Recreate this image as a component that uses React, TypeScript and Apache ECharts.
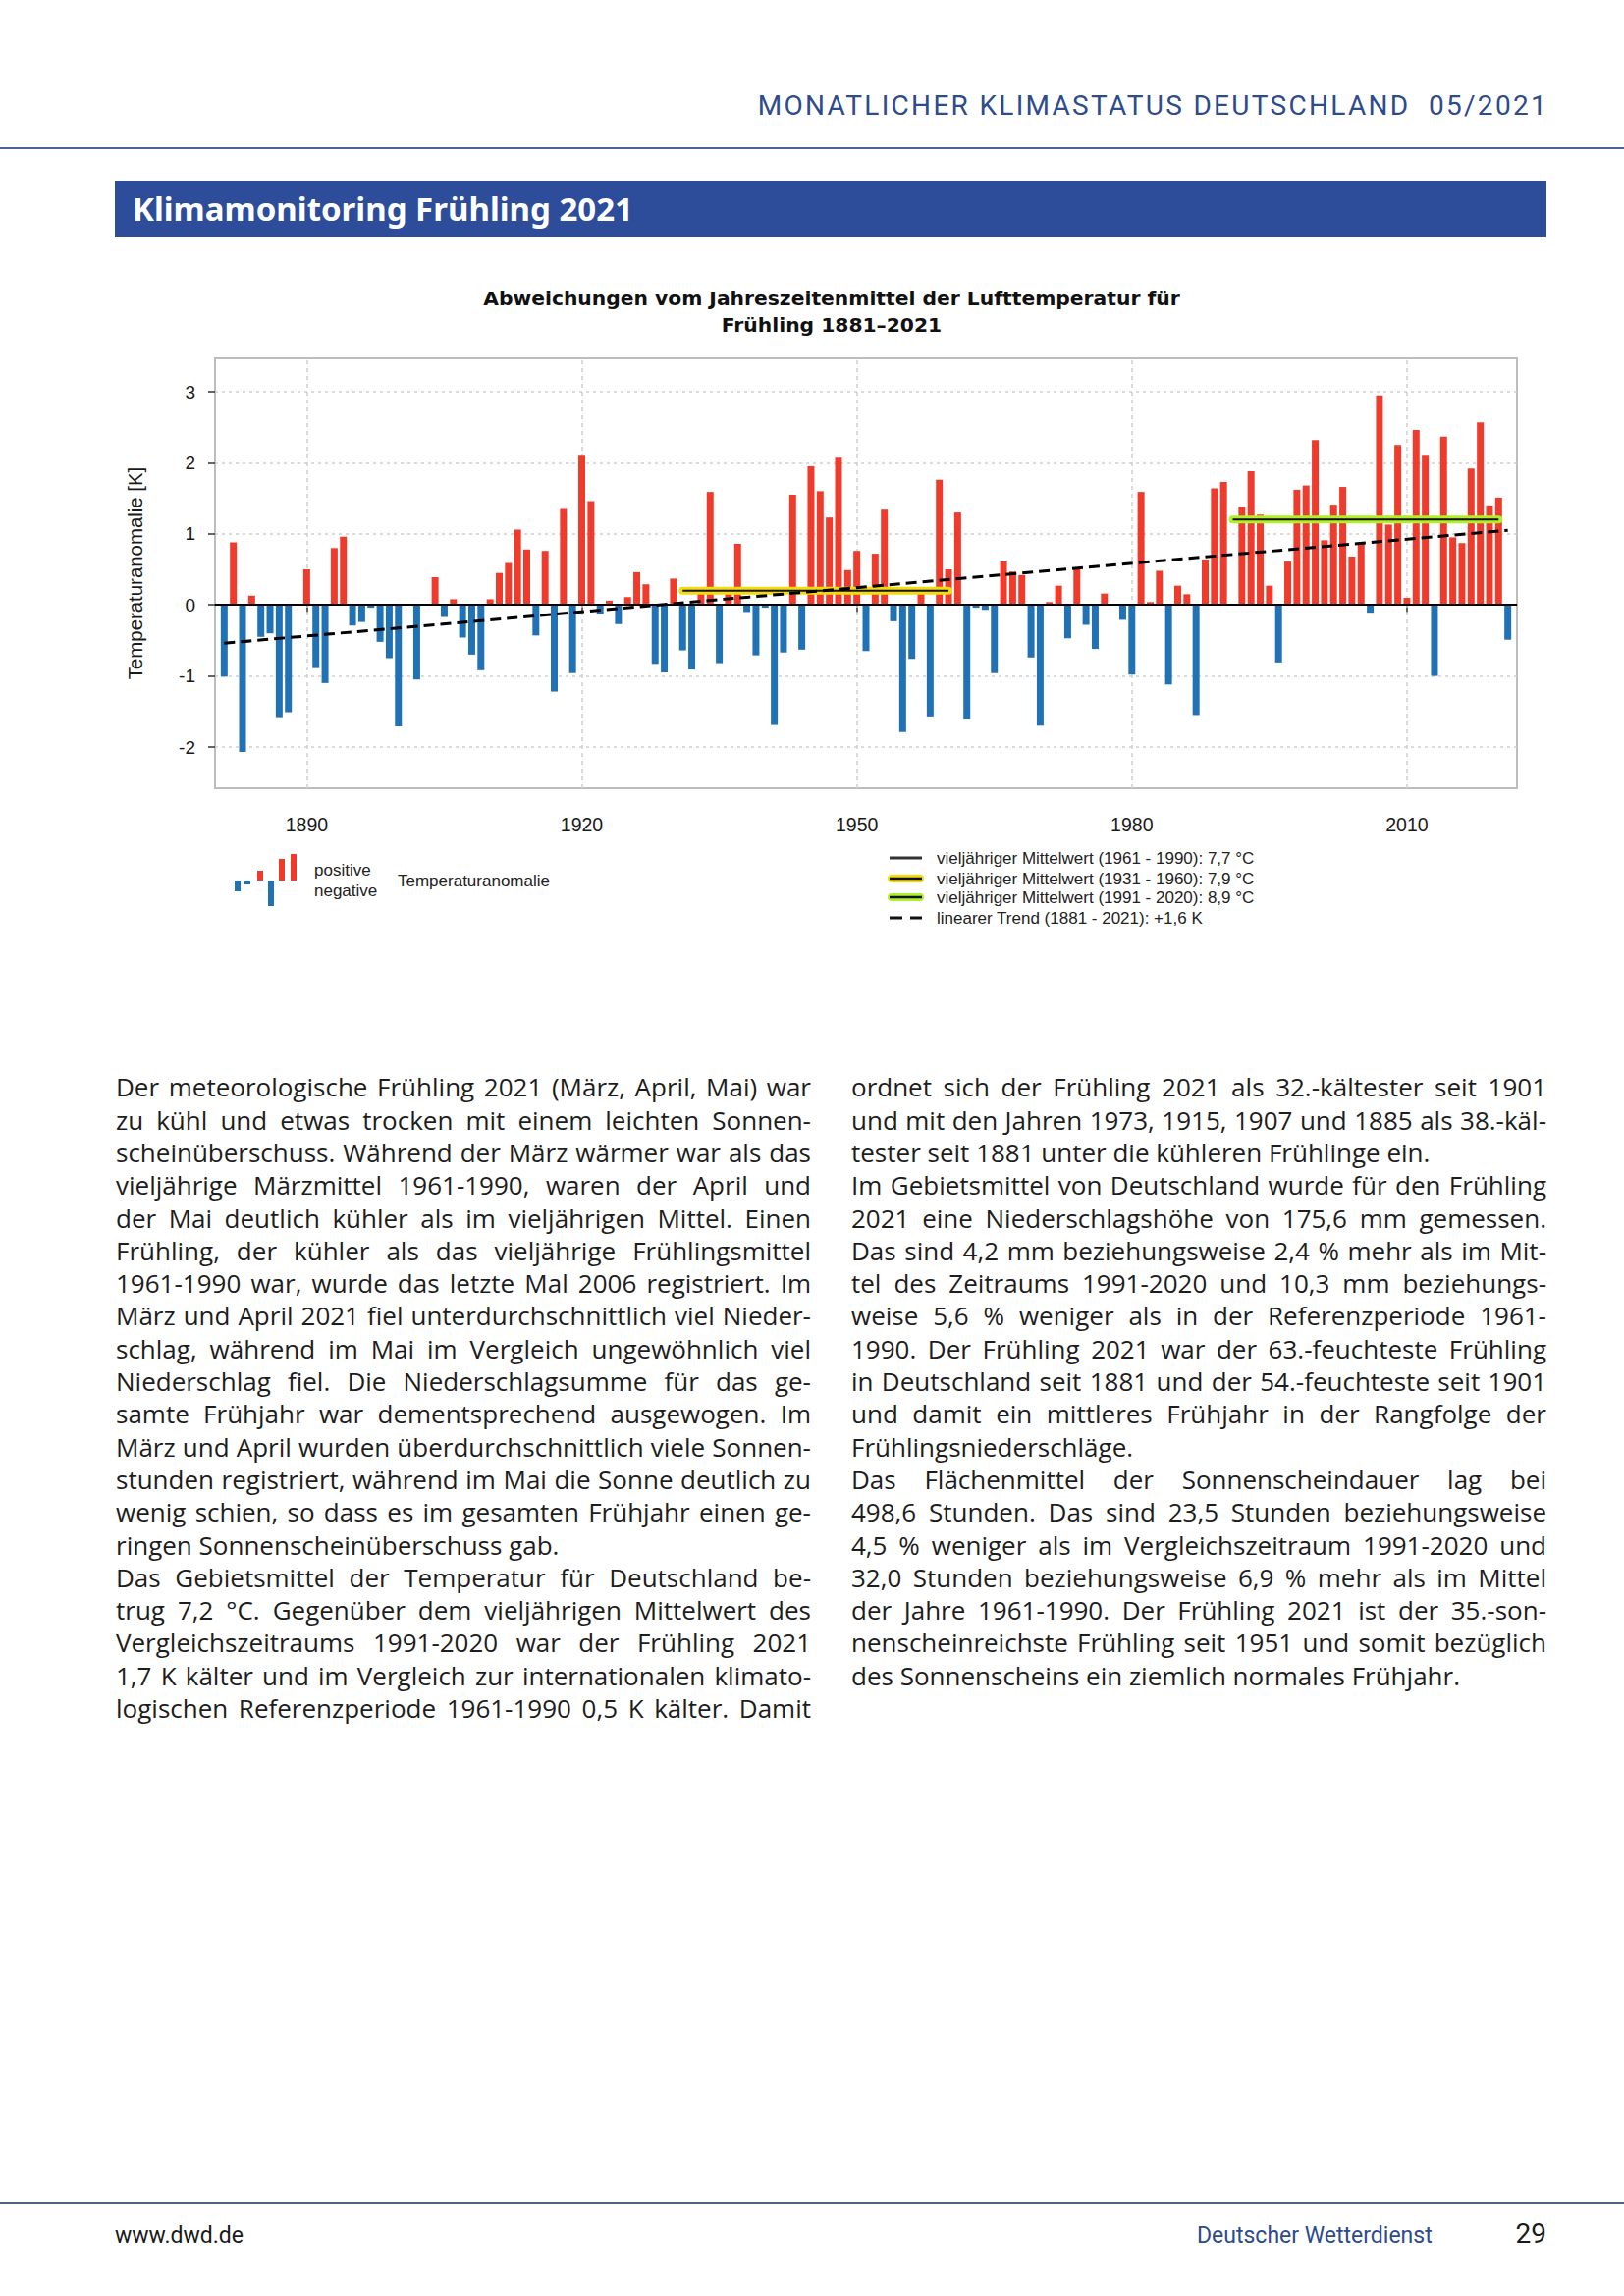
import React, { useEffect, useLayoutEffect, useRef } from "react";
import * as echarts from "echarts";

// ---------- DATA ----------
const FIRST_YEAR = 1881;
// Spring temperature anomaly vs. 1961-1990 (K), 1881 ... 2021
const anomalies: number[] = [
  /*1881*/ -1.01, 0.88, -2.07, 0.13, -0.45, -0.4, -1.58, -1.51, 0.0,
  /*1890*/ 0.5, -0.89, -1.1, 0.8, 0.96, -0.29, -0.24, -0.04, -0.52, -0.75,
  /*1900*/ -1.71, 0.0, -1.05, 0.0, 0.39, -0.17, 0.08, -0.46, -0.7, -0.92,
  /*1910*/ 0.08, 0.45, 0.59, 1.06, 0.78, -0.43, 0.76, -1.22, 1.35, -0.96,
  /*1920*/ 2.1, 1.46, -0.13, 0.06, -0.27, 0.11, 0.46, 0.29, -0.83, -0.95,
  /*1930*/ 0.37, -0.64, -0.91, 0.18, 1.59, -0.82, 0.16, 0.86, -0.1, -0.71,
  /*1940*/ -0.04, -1.69, -0.67, 1.55, -0.63, 1.95, 1.6, 1.23, 2.07, 0.49,
  /*1950*/ 0.76, -0.65, 0.72, 1.34, -0.23, -1.79, -0.76, 0.18, -1.57, 1.76,
  /*1960*/ 0.5, 1.3, -1.6, -0.04, -0.07, -0.96, 0.61, 0.47, 0.42, -0.74,
  /*1970*/ -1.7, 0.04, 0.27, -0.47, 0.5, -0.28, -0.62, 0.16, 0.0, -0.21,
  /*1980*/ -0.98, 1.59, 0.04, 0.48, -1.12, 0.27, 0.15, -1.55, 0.64, 1.64,
  /*1990*/ 1.73, 0.0, 1.38, 1.88, 1.27, 0.27, -0.81, 0.61, 1.62, 1.68,
  /*2000*/ 2.32, 0.91, 1.41, 1.66, 0.68, 0.88, -0.11, 2.95, 1.13, 2.25,
  /*2010*/ 0.1, 2.46, 2.1, -1.0, 2.37, 0.95, 0.87, 1.92, 2.57, 1.4,
  /*2020*/ 1.51, -0.49,
];
const years: number[] = anomalies.map((_, i) => FIRST_YEAR + i);

const xTickYears = [1890, 1920, 1950, 1980, 2010];
const yTickValues = [-2, -1, 0, 1, 2, 3];

const mean6190 = 7.7; // reference mean (zero line)
const mean3160 = 7.9;
const mean9120 = 8.9;
const period3160 = [1931, 1960];
const period9120 = [1991, 2020];
const trendYears = [1881, 2021];
const trendValues = [-0.54, 1.05];

const chartTitle = "Abweichungen vom Jahreszeitenmittel der Lufttemperatur für";
const chartTitle2 = "Frühling 1881–2021";
const yAxisName = "Temperaturanomalie [K]";
const legendTexts = [
  "vieljähriger Mittelwert (1961 - 1990): 7,7 °C",
  "vieljähriger Mittelwert (1931 - 1960): 7,9 °C",
  "vieljähriger Mittelwert (1991 - 2020): 8,9 °C",
  "linearer Trend (1881 - 2021): +1,6 K",
];

const leftLines: [string, boolean][] = [
  ["Der meteorologische Frühling 2021 (März, April, Mai) war", true],
  ["zu kühl und etwas trocken mit einem leichten Sonnen-", true],
  ["scheinüberschuss. Während der März wärmer war als das", true],
  ["vieljährige Märzmittel 1961-1990, waren der April und", true],
  ["der Mai deutlich kühler als im vieljährigen Mittel. Einen", true],
  ["Frühling, der kühler als das vieljährige Frühlingsmittel", true],
  ["1961-1990 war, wurde das letzte Mal 2006 registriert. Im", true],
  ["März und April 2021 fiel unterdurchschnittlich viel Nieder-", true],
  ["schlag, während im Mai im Vergleich ungewöhnlich viel", true],
  ["Niederschlag fiel. Die Niederschlagsumme für das ge-", true],
  ["samte Frühjahr war dementsprechend ausgewogen. Im", true],
  ["März und April wurden überdurchschnittlich viele Sonnen-", true],
  ["stunden registriert, während im Mai die Sonne deutlich zu", true],
  ["wenig schien, so dass es im gesamten Frühjahr einen ge-", true],
  ["ringen Sonnenscheinüberschuss gab.", false],
  ["Das Gebietsmittel der Temperatur für Deutschland be-", true],
  ["trug 7,2 °C. Gegenüber dem vieljährigen Mittelwert des", true],
  ["Vergleichszeitraums 1991-2020 war der Frühling 2021", true],
  ["1,7 K kälter und im Vergleich zur internationalen klimato-", true],
  ["logischen Referenzperiode 1961-1990 0,5 K kälter. Damit", true],
];
const rightLines: [string, boolean][] = [
  ["ordnet sich der Frühling 2021 als 32.-kältester seit 1901", true],
  ["und mit den Jahren 1973, 1915, 1907 und 1885 als 38.-käl-", true],
  ["tester seit 1881 unter die kühleren Frühlinge ein.", false],
  ["Im Gebietsmittel von Deutschland wurde für den Frühling", true],
  ["2021 eine Niederschlagshöhe von 175,6 mm gemessen.", true],
  ["Das sind 4,2 mm beziehungsweise 2,4 % mehr als im Mit-", true],
  ["tel des Zeitraums 1991-2020 und 10,3 mm beziehungs-", true],
  ["weise 5,6 % weniger als in der Referenzperiode 1961-", true],
  ["1990. Der Frühling 2021 war der 63.-feuchteste Frühling", true],
  ["in Deutschland seit 1881 und der 54.-feuchteste seit 1901", true],
  ["und damit ein mittleres Frühjahr in der Rangfolge der", true],
  ["Frühlingsniederschläge.", false],
  ["Das Flächenmittel der Sonnenscheindauer lag bei", true],
  ["498,6 Stunden. Das sind 23,5 Stunden beziehungsweise", true],
  ["4,5 % weniger als im Vergleichszeitraum 1991-2020 und", true],
  ["32,0 Stunden beziehungsweise 6,9 % mehr als im Mittel", true],
  ["der Jahre 1961-1990. Der Frühling 2021 ist der 35.-son-", true],
  ["nenscheinreichste Frühling seit 1951 und somit bezüglich", true],
  ["des Sonnenscheins ein ziemlich normales Frühjahr.", false],
];

// ---------- STYLE ----------
const RED = "#ef3b2c";
const BLUE = "#2171b5";
const YELLOW = "#f3dc0a";
const GREEN = "#b0f02a";
const DWD_BLUE = "#2d4d9a";
const CH_TOP = 270;
const AXIS_FONT = "Liberation Sans";

function buildOption(): any {
  const ty = (y: number) => y - CH_TOP;
  const legendRowsY = [874, 895, 914, 935].map(ty);
  const lx1 = 906, lx2 = 939, ltx = 954;
  const iconBase = ty(897);
  const iconBars = [
    { x: 239, h: -11, c: BLUE },
    { x: 249, h: -4, c: BLUE },
    { x: 262, h: 10, c: RED },
    { x: 273, h: -26, c: BLUE },
    { x: 284, h: 22, c: RED },
    { x: 296, h: 27, c: RED },
  ];
  const legendStyle = { verticalAlign: "middle", textVerticalAlign: "middle", fontFamily: AXIS_FONT, fontSize: 17, fill: "#222" };
  const graphic: any[] = [
    {
      type: "text",
      style: {
        text: chartTitle, x: 847, y: ty(304), align: "center", textAlign: "center",
        verticalAlign: "middle", textVerticalAlign: "middle",
        fontFamily: "DejaVu Sans", fontWeight: "bold", fontSize: 20.3, fill: "#111",
      },
    },
    {
      type: "text",
      style: {
        text: chartTitle2, x: 847, y: ty(331), align: "center", textAlign: "center",
        verticalAlign: "middle", textVerticalAlign: "middle",
        fontFamily: "DejaVu Sans", fontWeight: "bold", fontSize: 20.3, fill: "#111",
      },
    },
    ...iconBars.map((b) => ({
      type: "rect",
      shape: { x: b.x, y: b.h > 0 ? iconBase - b.h : iconBase, width: 6, height: Math.abs(b.h) },
      style: { fill: b.c },
    })),
    { type: "text", style: { ...legendStyle, text: "positive", x: 320, y: ty(886) } },
    { type: "text", style: { ...legendStyle, text: "negative", x: 320, y: ty(907) } },
    { type: "text", style: { ...legendStyle, text: "Temperaturanomalie", x: 405, y: ty(897) } },
    // legend line samples
    { type: "line", shape: { x1: lx1, y1: legendRowsY[0], x2: lx2, y2: legendRowsY[0] }, style: { stroke: "#333", lineWidth: 3 } },
    { type: "line", shape: { x1: lx1 + 2, y1: legendRowsY[1], x2: lx2 - 2, y2: legendRowsY[1] }, style: { stroke: YELLOW, lineWidth: 8, lineCap: "round" } },
    { type: "line", shape: { x1: lx1, y1: legendRowsY[1], x2: lx2, y2: legendRowsY[1] }, style: { stroke: "#111", lineWidth: 2.5 } },
    { type: "line", shape: { x1: lx1 + 2, y1: legendRowsY[2], x2: lx2 - 2, y2: legendRowsY[2] }, style: { stroke: GREEN, lineWidth: 8, lineCap: "round" } },
    { type: "line", shape: { x1: lx1, y1: legendRowsY[2], x2: lx2, y2: legendRowsY[2] }, style: { stroke: "#111", lineWidth: 2.5 } },
    { type: "line", shape: { x1: lx1, y1: legendRowsY[3], x2: lx2, y2: legendRowsY[3] }, style: { stroke: "#111", lineWidth: 3, lineDash: [13, 8] } },
    ...legendTexts.map((t, i) => ({
      type: "text",
      style: { ...legendStyle, text: t, x: ltx, y: legendRowsY[i] },
    })),
  ];

  return {
    animation: false,
    grid: {
      left: 219, right: 109, top: 365 - CH_TOP, bottom: 700 - (803 - CH_TOP),
      show: true, borderColor: "#bdbdbd", borderWidth: 2, backgroundColor: "#fff",
    },
    xAxis: {
      type: "value", min: 1880, max: 2022,
      axisLine: { show: true, lineStyle: { color: "#a9a9a9", width: 2 } },
      axisTick: { show: true, customValues: xTickYears, length: 8, lineStyle: { color: "#333", width: 1.5 } },
      axisLabel: {
        customValues: xTickYears, margin: 27, fontSize: 19.5, fontFamily: AXIS_FONT, color: "#1a1a1a",
        formatter: (v: number) => String(v),
      },
      splitLine: { show: false },
    },
    yAxis: {
      type: "value", min: -2.58, max: 3.47, splitNumber: 6,
      name: yAxisName, nameLocation: "middle", nameGap: 71,
      nameTextStyle: { fontSize: 20.4, fontFamily: AXIS_FONT, color: "#1a1a1a" },
      axisLine: { show: true, lineStyle: { color: "#bdbdbd", width: 2 } },
      axisTick: { show: true, customValues: yTickValues, length: 7, lineStyle: { color: "#333", width: 1.5 } },
      axisLabel: {
        customValues: yTickValues, margin: 20, fontSize: 19, fontFamily: AXIS_FONT, color: "#1a1a1a",
        formatter: (v: number) => String(v),
      },
      splitLine: { show: true, lineStyle: { color: "#cfcfcf", type: [3, 4], width: 1.5 } },
    },
    series: [
      {
        type: "line", name: "grid", data: [], z: 1, silent: true,
        markLine: {
          z: 1, silent: true, symbol: ["none", "none"], label: { show: false },
          lineStyle: { color: "#cfcfcf", type: [4, 4], width: 1.5 },
          data: xTickYears.map((y) => ({ xAxis: y })),
        },
      },
      {
        type: "bar", name: "anomaly", z: 2, barWidth: 7,
        data: years.map((y, i) => [y, anomalies[i]]),
        itemStyle: { color: (p: any) => (p.value[1] >= 0 ? RED : BLUE) },
      },
      {
        type: "line", name: "zero", data: [], z: 5, silent: true,
        markLine: {
          z: 5, silent: true, symbol: ["none", "none"], label: { show: false },
          lineStyle: { color: "#000", type: "solid", width: 2 },
          data: [{ yAxis: mean6190 - mean6190 }],
        },
      },
      {
        type: "line", name: "m3160glow", z: 6, symbol: "none", silent: true,
        data: period3160.map((y) => [y, mean3160 - mean6190]),
        lineStyle: { color: YELLOW, width: 8, cap: "round" },
      },
      {
        type: "line", name: "m3160", z: 7, symbol: "none", silent: true,
        data: period3160.map((y) => [y, mean3160 - mean6190]),
        lineStyle: { color: "#111", width: 2 },
      },
      {
        type: "line", name: "m9120glow", z: 6, symbol: "none", silent: true,
        data: period9120.map((y) => [y, mean9120 - mean6190]),
        lineStyle: { color: GREEN, width: 8, cap: "round" },
      },
      {
        type: "line", name: "m9120", z: 7, symbol: "none", silent: true,
        data: period9120.map((y) => [y, mean9120 - mean6190]),
        lineStyle: { color: "#111", width: 2 },
      },
      {
        type: "line", name: "trend", z: 8, symbol: "none", silent: true,
        data: trendYears.map((y, i) => [y, trendValues[i]]),
        lineStyle: { color: "#000", width: 3, type: [11, 6] },
      },
    ],
    graphic,
  };
}

const BODY_FONT = "Open Sans";
const BODY_SIZE = 26;
const COL_W = 708;
const LINE_H = 33.3;
const FIRST_LINE_CENTER = 1108;

function TextColumn({ lines, left }: { lines: [string, boolean][]; left: number }) {
  const refs = useRef<(HTMLDivElement | null)[]>([]);
  useLayoutEffect(() => {
    refs.current.forEach((el, i) => {
      if (!el) return;
      const span = el.firstChild as HTMLSpanElement;
      const w = span.getBoundingClientRect().width;
      if (w > COL_W) {
        const n = lines[i][0].length;
        el.style.letterSpacing = (-(w - COL_W + 1) / n).toFixed(3) + "px";
      }
    });
  }, []);
  return (
    <>
      {lines.map(([t, just], i) => (
        <div
          key={i}
          ref={(el) => { refs.current[i] = el; }}
          style={{
            position: "absolute",
            left,
            top: FIRST_LINE_CENTER - LINE_H / 2 + i * LINE_H,
            width: COL_W,
            height: LINE_H,
            lineHeight: LINE_H + "px",
            fontFamily: BODY_FONT,
            fontSize: BODY_SIZE,
            color: "#1d1d1d",
            whiteSpace: "nowrap",
            textAlign: just ? "justify" : "left",
            textAlignLast: just ? "justify" : "left",
          } as any}
        >
          <span>{t}</span>
        </div>
      ))}
    </>
  );
}

export default function App() {
  const ref = useRef<HTMLDivElement>(null);
  useEffect(() => {
    const chart = echarts.init(ref.current!, null, { renderer: "svg" });
    chart.setOption(buildOption());
    return () => chart.dispose();
  }, []);
  return (
    <div
      style={{
        position: "absolute", left: 0, top: 0, width: 1654, height: 2339,
        background: "#fff", overflow: "hidden",
      }}
    >
      <div
        style={{
          position: "absolute", right: 77, top: 89, height: 38, lineHeight: "38px",
          fontFamily: "Roboto", fontSize: 28, letterSpacing: 2.3, color: "#2e4b8c", whiteSpace: "pre",
        }}
      >
        {"MONATLICHER KLIMASTATUS DEUTSCHLAND  05/2021"}
      </div>
      <div style={{ position: "absolute", left: 0, top: 150, width: 1654, height: 2, background: "#4a6390" }} />
      <div
        style={{
          position: "absolute", left: 117, top: 184, width: 1458, height: 57, background: DWD_BLUE,
          color: "#fff", fontFamily: "Noto Sans", fontWeight: 700, fontSize: 33, lineHeight: "57px",
          paddingLeft: 18, boxSizing: "border-box", whiteSpace: "nowrap",
        }}
      >
        Klimamonitoring Frühling 2021
      </div>
      <div ref={ref} style={{ position: "absolute", left: 0, top: CH_TOP, width: 1654, height: 700 }} />
      <TextColumn lines={leftLines} left={118} />
      <TextColumn lines={rightLines} left={867} />
      <div style={{ position: "absolute", left: 0, top: 2243, width: 1654, height: 2, background: "#4a6390" }} />
      <div
        style={{
          position: "absolute", left: 117, top: 2261, height: 34, lineHeight: "34px",
          fontFamily: "Roboto", fontSize: 23, color: "#1a1a1a",
        }}
      >
        www.dwd.de
      </div>
      <div
        style={{
          position: "absolute", left: 1219, top: 2261, height: 34, lineHeight: "34px",
          fontFamily: "Roboto", fontSize: 23, color: "#2e4b8c",
        }}
      >
        Deutscher Wetterdienst
      </div>
      <div
        style={{
          position: "absolute", right: 79, top: 2257, height: 38, lineHeight: "38px",
          fontFamily: "Roboto", fontSize: 28, color: "#1a1a1a",
        }}
      >
        29
      </div>
    </div>
  );
}
